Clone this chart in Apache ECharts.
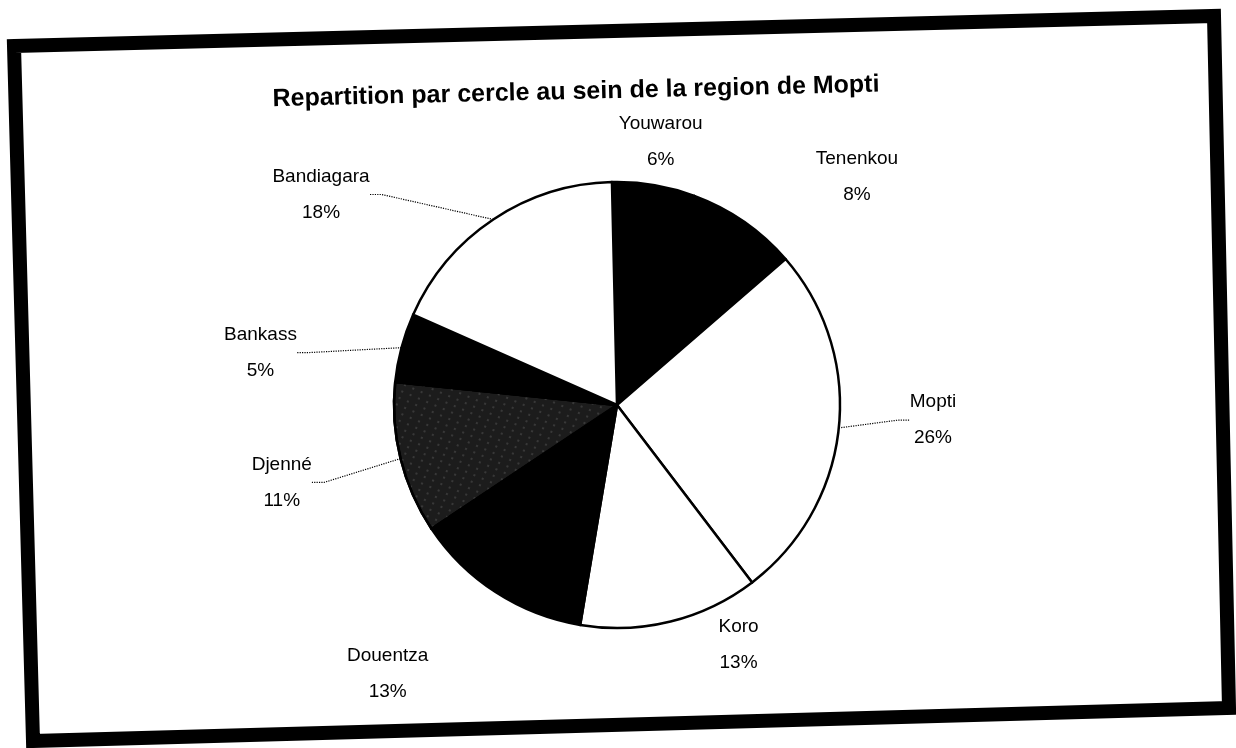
<!DOCTYPE html>
<html>
<head>
<meta charset="utf-8">
<title>Repartition par cercle - Mopti</title>
<script src="https://cdn.jsdelivr.net/npm/echarts@6/dist/echarts.min.js"></script>
<style>
html, body { margin: 0; padding: 0; background: #fff; }
#chart { width: 1236px; height: 748px; }
</style>
</head>
<body>
<div id="chart"></div>
<script>
// data
const cercles = ['Youwarou', 'Tenenkou', 'Mopti', 'Koro', 'Douentza', 'Djenné', 'Bankass', 'Bandiagara']
const parts = [6, 8, 26, 13, 13, 11, 5, 18]

const titleText = 'Repartition par cercle au sein de la region de Mopti'

// fill of each slice (scan is black & white)
const fills = ['#000', '#000', '#fff', '#fff', '#000', '#1c1c1c', '#000', '#fff']
// how far each label sits from where echarts puts it (px)
const labelShift = [[-54, -31], [48, -35], [42, -9], [28, 12], [-44, 71], [-60, 21], [-76, 8], [-100, -15]]
// only a few leader lines are visible on the scan
const leaderShown = [false, false, true, false, false, true, true, true]

const myChart = echarts.init(document.getElementById('chart'))

const option = {
  animation: false,
  backgroundColor: '#fff',
  textStyle: { fontFamily: 'Liberation Sans, Arial, sans-serif' },
  graphic: [
    {
      // the thick hand-drawn frame, slightly tilted on the scan
      type: 'polygon',
      shape: { points: [[14, 46], [1214, 16], [1229, 708], [33, 741]] },
      style: { fill: null, stroke: '#000', lineWidth: 14 },
      z: 10
    },
    {
      type: 'text',
      x: 576,
      y: 92,
      rotation: 0.024,
      style: {
        text: titleText,
        fill: '#000',
        font: 'bold 25px "Liberation Sans", Arial, sans-serif',
        textAlign: 'center',
        textVerticalAlign: 'middle'
      }
    }
  ],
  series: [
    {
      type: 'pie',
      center: [617, 405],
      radius: 223,
      startAngle: 91.3,
      clockwise: true,
      avoidLabelOverlap: false,
      data: cercles.map(function (name, i) {
        const item = {
          name: name,
          value: parts[i],
          itemStyle: { color: fills[i] },
          labelLine: { show: leaderShown[i] }
        }
        if (name === 'Djenné') {
          // stippled grey on the scan
          item.itemStyle.decal = {
            symbol: 'rect',
            symbolSize: 0.5,
            color: 'rgba(255,255,255,0.5)',
            dashArrayX: [2, 7],
            dashArrayY: [2, 5],
            rotation: 0.4
          }
        }
        return item
      }),
      itemStyle: {
        borderColor: '#000',
        borderWidth: 2.5
      },
      label: {
        show: true,
        position: 'outside',
        formatter: function (p) {
          return p.name + '\n' + p.value + '%'
        },
        color: '#000',
        fontSize: 19,
        lineHeight: 36
      },
      labelLine: {
        show: true,
        length: 12,
        length2: 12,
        lineStyle: { color: '#000', width: 1.2, type: 'dotted' }
      },
      labelLayout: function (params) {
        const r = params.labelRect
        const s = labelShift[params.dataIndex]
        return {
          x: r.x + r.width / 2 + s[0],
          y: r.y + r.height / 2 + s[1],
          align: 'center',
          verticalAlign: 'middle'
        }
      },
      emphasis: { disabled: true }
    }
  ]
}
myChart.setOption(option)
</script>
</body>
</html>
